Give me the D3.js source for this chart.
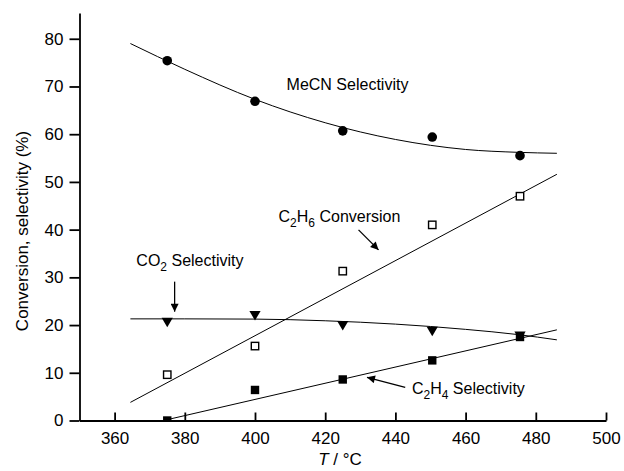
<!DOCTYPE html>
<html>
<head>
<meta charset="utf-8">
<script src="https://cdn.jsdelivr.net/npm/d3@7"></script>
<style>
  body { margin: 0; background: #fff; }
  svg { display: block; font-family: "Liberation Sans", Arial, Helvetica, sans-serif; }
</style>
</head>
<body>
<div class="chart"></div>
<script>
// measured points
const temps = [375, 400, 425, 450.5, 475.5];
const mecnSel = [75.4, 66.9, 60.7, 59.4, 55.5];
const c2h6Conv = [9.6, 15.6, 31.3, 41.0, 47.0];
const co2Sel = [20.7, 22.1, 20.0, 18.8, 17.8];
const c2h4Sel = [0.0, 6.4, 8.6, 12.6, 17.5];

// fitted curves
const fitT = [364.5, 380, 400, 420, 440, 460, 475, 486];
const mecnFit = [79.0, 73.6, 67.3, 62.4, 58.9, 56.8, 56.2, 56.0];
const co2Fit = [21.3, 21.3, 21.25, 20.9, 20.2, 19.1, 18.0, 16.9];
const c2h6FitT = [364.5, 486];
const c2h6Fit = [3.8, 51.6];
const c2h4FitT = [364.5, 486];
const c2h4Fit = [-1.6, 19.0];

const xTicks = [360, 380, 400, 420, 440, 460, 480, 500];
const yTicks = [0, 10, 20, 30, 40, 50, 60, 70, 80];

var width = 624, height = 471;

const svg = d3.select(".chart")
  .append("svg")
  .attr("width", width)
  .attr("height", height);

const x = d3.scaleLinear().domain([350, 500]).range([79.5, 606]);
const y = d3.scaleLinear().domain([0, 85.4]).range([420.5, 13]);

// clip so nothing goes below the x axis
svg.append("defs")
  .append("clipPath")
  .attr("id", "clip")
  .append("rect")
  .attr("x", x(350))
  .attr("y", 0)
  .attr("width", x(500) - x(350))
  .attr("height", y(0));

svg.select("defs").append("marker")
  .attr("id", "arrow")
  .attr("viewBox", "0 0 10 10")
  .attr("refX", 10)
  .attr("refY", 5)
  .attr("markerUnits", "userSpaceOnUse")
  .attr("markerWidth", 10)
  .attr("markerHeight", 8)
  .attr("orient", "auto")
  .append("path")
  .attr("d", "M0,0L10,5L0,10z")
  .attr("fill", "#000");

const plot = svg.append("g").attr("clip-path", "url(#clip)");

const line = d3.line()
  .x(d => x(d[0]))
  .y(d => y(d[1]))
  .curve(d3.curveMonotoneX);

function fitLine(ts, vs) {
  plot.append("path")
    .datum(ts.map((t, i) => [t, vs[i]]))
    .attr("d", line)
    .attr("fill", "none")
    .attr("stroke", "#000")
    .attr("stroke-width", 1);
}
fitLine(fitT, mecnFit);
fitLine(fitT, co2Fit);
fitLine(c2h6FitT, c2h6Fit);
fitLine(c2h4FitT, c2h4Fit);

// markers
plot.selectAll(".mecn")
  .data(temps.map((t, i) => [t, mecnSel[i]]))
  .enter().append("circle")
  .attr("class", "mecn")
  .attr("cx", d => x(d[0]))
  .attr("cy", d => y(d[1]))
  .attr("r", 4.8)
  .attr("fill", "#000");

plot.selectAll(".conv")
  .data(temps.map((t, i) => [t, c2h6Conv[i]]))
  .enter().append("rect")
  .attr("class", "conv")
  .attr("x", d => x(d[0]) - 3.7)
  .attr("y", d => y(d[1]) - 3.7)
  .attr("width", 7.4)
  .attr("height", 7.4)
  .attr("fill", "#fff")
  .attr("stroke", "#000")
  .attr("stroke-width", 1.4);

plot.selectAll(".co2")
  .data(temps.map((t, i) => [t, co2Sel[i]]))
  .enter().append("path")
  .attr("class", "co2")
  .attr("d", d => {
    var cx = x(d[0]), cy = y(d[1]);
    return "M" + (cx - 5.6) + "," + (cy - 4) + "L" + (cx + 5.6) + "," + (cy - 4) + "L" + cx + "," + (cy + 5.5) + "Z";
  })
  .attr("fill", "#000");

plot.selectAll(".c2h4")
  .data(temps.map((t, i) => [t, c2h4Sel[i]]))
  .enter().append("rect")
  .attr("class", "c2h4")
  .attr("x", d => x(d[0]) - 4.2)
  .attr("y", d => y(d[1]) - 4.2)
  .attr("width", 8.4)
  .attr("height", 8.4)
  .attr("fill", "#000");

// axes
const xAxis = d3.axisBottom(x)
  .tickValues(xTicks)
  .tickSizeInner(-8)
  .tickSizeOuter(0)
  .tickPadding(11);

const yAxis = d3.axisLeft(y)
  .tickValues(yTicks)
  .tickSizeInner(10)
  .tickSizeOuter(0)
  .tickPadding(6);

svg.append("g")
  .attr("class", "x axis")
  .attr("transform", "translate(0," + y(0) + ")")
  .call(xAxis);

svg.append("g")
  .attr("class", "y axis")
  .attr("transform", "translate(" + x(350) + ",0)")
  .call(yAxis);

svg.selectAll(".axis path, .axis line")
  .attr("stroke", "#000")
  .attr("stroke-width", 1.8);
svg.selectAll(".axis text")
  .attr("font-size", 17)
  .attr("font-family", "Liberation Sans, Arial, sans-serif")
  .attr("fill", "#000");

// axis titles
svg.append("text")
  .attr("x", 340)
  .attr("y", 465)
  .attr("text-anchor", "middle")
  .attr("font-size", 17)
  .html('<tspan font-style="italic">T</tspan> / °C');

svg.append("text")
  .attr("transform", "translate(28," + 231 + ") rotate(-90)")
  .attr("text-anchor", "middle")
  .attr("font-size", 17)
  .text("Conversion, selectivity (%)");

// annotations
function label(t, v, parts) {
  var txt = svg.append("text")
    .attr("x", x(t))
    .attr("y", y(v))
    .attr("font-size", 16);
  parts.forEach(function(p) {
    if (p.sub) {
      txt.append("tspan").attr("font-size", 12).attr("dy", 5).text(p.s);
    } else {
      txt.append("tspan").attr("dy", p.after ? -5 : 0).text(p.s);
    }
  });
}
label(409, 69.3, [{s: "MeCN Selectivity"}]);
label(406.7, 41.7, [{s: "C"}, {s: "2", sub: true}, {s: "H", after: true}, {s: "6", sub: true}, {s: " Conversion", after: true}]);
label(366.2, 32.4, [{s: "CO"}, {s: "2", sub: true}, {s: " Selectivity", after: true}]);
label(444.7, 5.55, [{s: "C"}, {s: "2", sub: true}, {s: "H", after: true}, {s: "4", sub: true}, {s: " Selectivity", after: true}]);

function arrow(t0, v0, t1, v1) {
  svg.append("line")
    .attr("x1", x(t0)).attr("y1", y(v0))
    .attr("x2", x(t1)).attr("y2", y(v1))
    .attr("stroke", "#000")
    .attr("stroke-width", 1.3)
    .attr("marker-end", "url(#arrow)");
}
arrow(429.5, 39.95, 435.2, 35.75);
arrow(377.1, 29.1, 377.1, 22.8);
arrow(442.8, 6.96, 431.9, 9.06);
</script>
</body>
</html>
